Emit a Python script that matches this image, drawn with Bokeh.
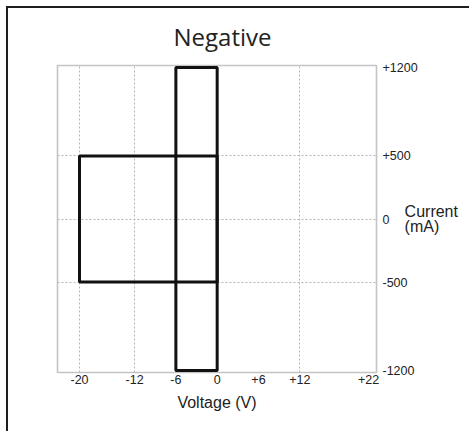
from bokeh.plotting import figure
from bokeh.models import FixedTicker, Range1d, Title
from bokeh.embed import file_html
from bokeh.resources import INLINE

# ---- data ----
TITLE = "Negative"
X_LABEL = "Voltage (V)"
Y_LABEL = "Current\n(mA)"

X_TICKS = [-20, -12, -6, 0, 6, 12, 22]
X_TICK_LABELS = ["-20", "-12", "-6", "0", "+6", "+12", "+22"]
Y_TICKS = [-1200, -500, 0, 500, 1200]
Y_TICK_LABELS = ["-1200", "-500", "0", "+500", "+1200"]
X_GRID = [-20, -12, -6, 0, 12]
Y_GRID = [-500, 0, 500]

# operating regions (voltage range x current range)
RECT_V_MIN = [-20, -6]
RECT_V_MAX = [0, 0]
RECT_I_MIN = [-500, -1200]
RECT_I_MAX = [500, 1200]

# ---- figure ----
X_START, X_END = -23.2, 23.15
Y_START, Y_END = -1216, 1216

p = figure(width=463, height=425, output_backend="svg", toolbar_location=None,
           x_range=Range1d(X_START, X_END), y_range=Range1d(Y_START, Y_END),
           y_axis_location="right",
           min_border_left=49, min_border_right=95, min_border_top=57, min_border_bottom=61)
p.title = Title(text=TITLE, align="left", offset=116, text_font="Open Sans",
                text_font_size="24px", text_font_style="normal",
                vertical_align="top",
                text_color="#222222", standoff=21)
p.styles = {"margin-left": "6px", "margin-top": "6px",
            "border-top": "2px solid #1e1e1e", "border-left": "2px solid #1e1e1e"}
p.background_fill_color = "white"
p.border_fill_color = "white"
p.outline_line_color = "#c4c4c4"
p.outline_line_width = 1.6

TICK_FONT = "Liberation Sans"

for ax in (p.xaxis[0], p.yaxis[0]):
    ax.axis_line_color = None
    ax.major_tick_line_color = None
    ax.minor_tick_line_color = None
    ax.major_tick_out = 0
    ax.major_tick_in = 0
    ax.minor_tick_out = 0
    ax.minor_tick_in = 0
    ax.major_label_text_font = TICK_FONT
    ax.major_label_text_font_size = "12.5px"
    ax.major_label_text_color = "#222222"
    ax.axis_label_text_font = TICK_FONT
    ax.axis_label_text_font_size = "16px"
    ax.axis_label_text_font_style = "normal"
    ax.axis_label_text_color = "#222222"

xa = p.xaxis[0]
xa.ticker = FixedTicker(ticks=X_TICKS)
xa.major_label_overrides = {t: l for t, l in zip(X_TICKS, X_TICK_LABELS)}
xa.major_label_standoff = 2
xa.axis_label = X_LABEL
xa.axis_label_standoff = 7

ya = p.yaxis[0]
ya.ticker = FixedTicker(ticks=Y_TICKS)
ya.major_label_overrides = {t: l for t, l in zip(Y_TICKS, Y_TICK_LABELS)}
ya.major_label_standoff = 6
ya.major_label_orientation = "horizontal"
ya.axis_label = Y_LABEL
ya.axis_label_orientation = "horizontal"
ya.axis_label_text_align = "center"
ya.axis_label_text_line_height = 0.85
ya.axis_label_standoff = -16

p.xgrid.ticker = FixedTicker(ticks=X_GRID)
p.ygrid.ticker = FixedTicker(ticks=Y_GRID)
for g in (p.xgrid, p.ygrid):
    g.grid_line_color = "#b4b4b4"
    g.grid_line_dash = "2 2"
    g.grid_line_width = 1

p.quad(left=RECT_V_MIN, right=RECT_V_MAX, bottom=RECT_I_MIN, top=RECT_I_MAX,
       fill_color=None, line_color="#111111", line_width=3)

open("out.html", "w").write(file_html(p, INLINE))
